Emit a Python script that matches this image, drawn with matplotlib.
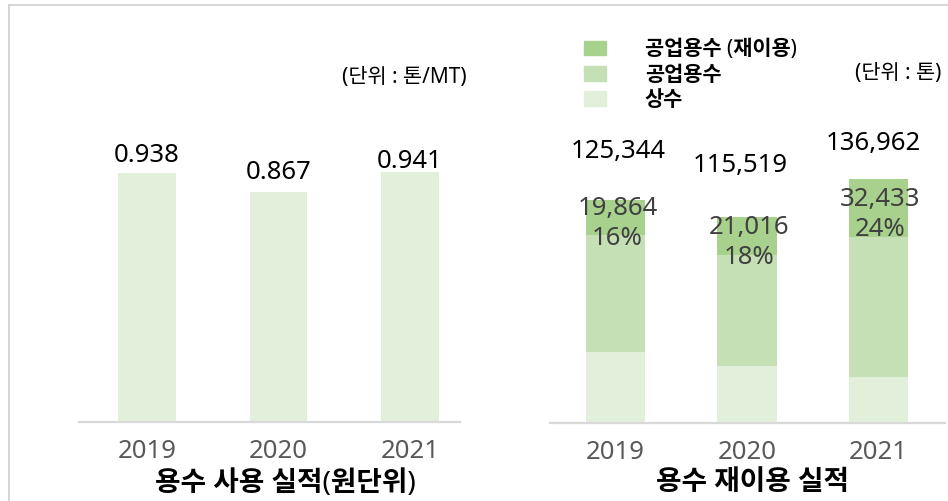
import matplotlib
matplotlib.use("Agg")
import matplotlib.pyplot as plt
import matplotlib.patches as mpatches
from matplotlib.lines import Line2D

# Latin/digits from Noto Sans, Hangul falls through to the CJK family
plt.rcParams['font.family'] = ['Noto Sans', 'Noto Sans CJK KR', 'DejaVu Sans']

# data
years = ['2019', '2020', '2021']
intensity = [0.938, 0.867, 0.941]          # 톤/MT
total_water = [125344, 115519, 136962]     # 톤
reuse_water = [19864, 21016, 32433]        # 공업용수 (재이용)
tap_water = [40000, 32000, 26000]          # 상수
reuse_pct = ['16%', '18%', '24%']
industrial = [t - r - s for t, r, s in zip(total_water, reuse_water, tap_water)]

C_DARK = '#a9d18e'
C_MID = '#c5e0b4'
C_LIGHT = '#e2efda'
GRID = '#d9d9d9'

W, H = 948, 501
fig = plt.figure(figsize=(W / 100, H / 100), dpi=100)


def px_box(x0, y0, x1, y1):
    # pixel box (top-left origin) -> figure fraction rect
    return [x0 / W, 1 - y1 / H, (x1 - x0) / W, (y1 - y0) / H]


def style_axis(ax):
    for s in ['top', 'right', 'left']:
        ax.spines[s].set_visible(False)
    ax.spines['bottom'].set_color(GRID)
    ax.spines['bottom'].set_linewidth(1.6)
    ax.set_yticks([])
    ax.tick_params(axis='x', length=0, pad=12, labelsize=18.5, labelcolor='#595959')


# left chart: 원단위
ax1 = fig.add_axes(px_box(79, 10, 460, 422))
x = list(range(len(years)))
ax1.bar(x, intensity, width=0.44, color=C_LIGHT)
ax1.set_xlim(-0.517, 2.38)
ax1.set_ylim(0, 412 / 265.5)
ax1.set_xticks(x)
ax1.set_xticklabels(years)
style_axis(ax1)
left_dy = [17, 19, 11]
for i, v in enumerate(intensity):
    ax1.annotate(f'{v:.3f}', (i, v), xytext=(0, left_dy[i]), textcoords='offset pixels',
                 ha='center', va='center', fontsize=18.5, color='black')

# right chart: 재이용
ax2 = fig.add_axes(px_box(550, 10, 945, 423))
ax2.bar(x, tap_water, width=0.45, color=C_LIGHT)
ax2.bar(x, industrial, width=0.45, bottom=tap_water, color=C_MID)
base2 = [s + m for s, m in zip(tap_water, industrial)]
ax2.bar(x, reuse_water, width=0.45, bottom=base2, color=C_DARK)
ax2.set_xlim(-0.498, 2.506)
ax2.set_ylim(0, 413 / 0.001779)
ax2.set_xticks(x)
ax2.set_xticklabels(years)
style_axis(ax2)

total_dy = [49, 52, 36]
total_dx = [3, -7, -5]
for i, v in enumerate(total_water):
    ax2.annotate(f'{v:,}', (i, v), xytext=(total_dx[i], total_dy[i]), textcoords='offset pixels',
                 ha='center', va='center', fontsize=18.5, color='black')
for i, r in enumerate(reuse_water):
    ax2.annotate(f'{r:,}\n{reuse_pct[i]}', (i, base2[i] + r / 2), xytext=(2, -6),
                 textcoords='offset pixels', ha='center', va='center',
                 fontsize=18.5, color='#404040', linespacing=1.25)

# legend
handles = [mpatches.Patch(color=C_DARK, label='공업용수 (재이용)'),
           mpatches.Patch(color=C_MID, label='공업용수'),
           mpatches.Patch(color=C_LIGHT, label='상수')]
leg = fig.legend(handles=handles, loc='upper left', bbox_to_anchor=(574 / W, 1 - 29 / H),
                 frameon=False, borderpad=0, handlelength=1.05, handleheight=0.7,
                 handletextpad=1.85, labelspacing=0.2,
                 prop={'size': 15, 'weight': 'bold'})

# unit labels
fig.text(467 / W, 1 - 78 / H, '(단위 : 톤/MT)', ha='right', va='center', fontsize=15)
fig.text(941 / W, 1 - 73 / H, '(단위 : 톤)', ha='right', va='center', fontsize=15)

# chart titles
fig.text(285 / W, 1 - 484 / H, '용수 사용 실적(원단위)', ha='center', va='center',
         fontsize=20, fontweight='bold')
fig.text(752 / W, 1 - 483 / H, '용수 재이용 실적', ha='center', va='center',
         fontsize=20, fontweight='bold')

# frame lines
fig.add_artist(Line2D([9 / W, 1], [1 - 5 / H, 1 - 5 / H], color='#d0d0d0', lw=1.2))
fig.add_artist(Line2D([9 / W, 9 / W], [0, 1 - 5 / H], color='#d0d0d0', lw=1.2))

fig.savefig('out.png', dpi=100)
